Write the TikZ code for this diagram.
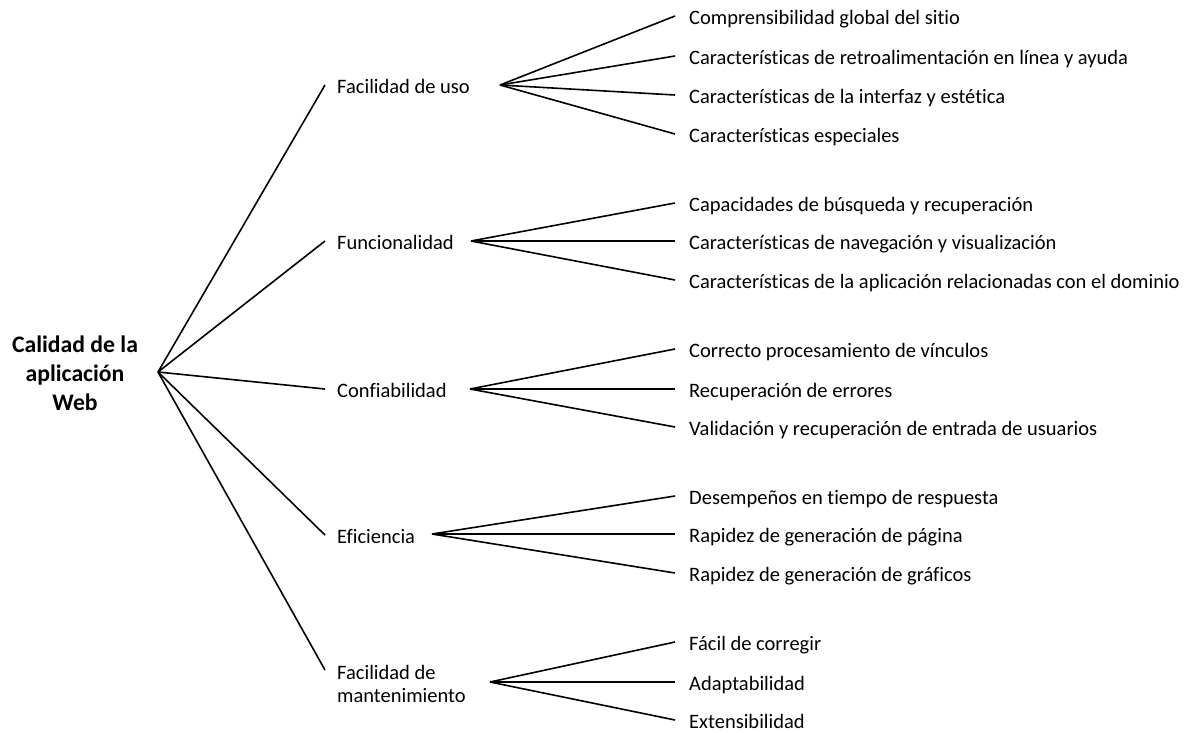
\documentclass[tikz,border=0pt]{standalone}
\usepackage{fontspec}
\setmainfont{Carlito}[Ligatures=CommonOff]
\begin{document}
\begin{tikzpicture}[x=1pt,y=-1pt,
  link/.style={line width=1.6pt,black},
  mid/.style={anchor=west,inner xsep=12pt,inner ysep=0pt,font=\fontsize{20.5}{23}\selectfont,text height=17pt,text depth=1pt},
  midtwo/.style={anchor=west,inner xsep=12pt,inner ysep=0pt,font=\fontsize{20.5}{23}\selectfont,align=left},
  leaf/.style={anchor=west,inner xsep=14pt,inner ysep=0pt,font=\fontsize{20.5}{23}\selectfont,text height=17pt,text depth=1pt},
  rootbox/.style={align=center,font=\bfseries\fontsize{23.7}{29}\selectfont,inner sep=0pt}]
\useasboundingbox (0,0) rectangle (1195,732);
\node[rootbox] (root) at (75,373) {Calidad de la\\aplicación\\Web};
\coordinate (rj) at (158,372);
% mid level
\node[mid] (m1) at (325,85) {Facilidad de uso};
\node[mid] (m2) at (325,241) {Funcionalidad};
\node[mid] (m3) at (325,389) {Confiabilidad};
\node[mid] (m4) at (325,535) {Eficiencia};
\node[midtwo] (m5) at (325,684) {Facilidad de\\mantenimiento};
\coordinate (m5e) at (325,670);
\foreach \m in {m1,m2,m3,m4} \draw[link] (rj) -- (\m.west);
\draw[link] (rj) -- (m5e);
% junctions
\coordinate (j1) at (500,85);
\coordinate (j2) at (471,241);
\coordinate (j3) at (470,389);
\coordinate (j4) at (432,534);
\coordinate (j5) at (490,682);
% leaves
\node[leaf] (a1) at (675,16) {Comprensibilidad global del sitio};
\node[leaf] (a2) at (675,56) {Características de retroalimentación en línea y ayuda};
\node[leaf] (a3) at (675,95) {Características de la interfaz y estética};
\node[leaf] (a4) at (675,134) {Características especiales};
\node[leaf] (b1) at (675,203) {Capacidades de búsqueda y recuperación};
\node[leaf] (b2) at (675,241) {Características de navegación y visualización};
\node[leaf] (b3) at (675,280) {Características de la aplicación relacionadas con el dominio};
\node[leaf] (c1) at (675,349) {Correcto procesamiento de vínculos};
\node[leaf] (c2) at (675,389) {Recuperación de errores};
\node[leaf] (c3) at (675,427) {Validación y recuperación de entrada de usuarios};
\node[leaf] (d1) at (675,496) {Desempeños en tiempo de respuesta};
\node[leaf] (d2) at (675,534) {Rapidez de generación de página};
\node[leaf] (d3) at (675,573) {Rapidez de generación de gráficos};
\node[leaf] (e1) at (675,642) {Fácil de corregir};
\node[leaf] (e2) at (675,682) {Adaptabilidad};
\node[leaf] (e3) at (675,720) {Extensibilidad};
\foreach \l in {a1,a2,a3,a4} \draw[link] (j1) -- (\l.west);
\foreach \l in {b1,b2,b3} \draw[link] (j2) -- (\l.west);
\foreach \l in {c1,c2,c3} \draw[link] (j3) -- (\l.west);
\foreach \l in {d1,d2,d3} \draw[link] (j4) -- (\l.west);
\foreach \l in {e1,e2,e3} \draw[link] (j5) -- (\l.west);
\end{tikzpicture}
\end{document}
